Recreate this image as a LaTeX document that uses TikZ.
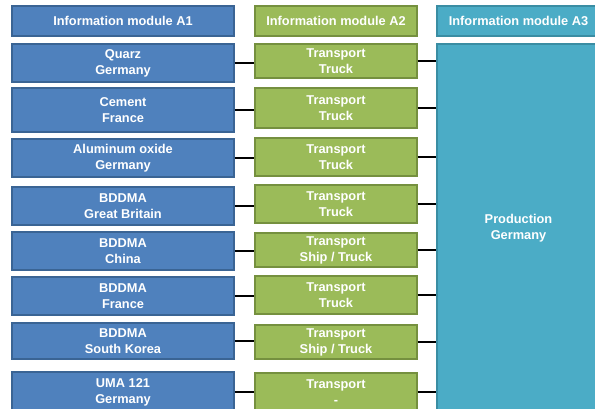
\documentclass[tikz,border=0pt]{standalone}
\usepackage{fontspec}
\setmainfont{Liberation Sans}
\begin{document}
\begin{tikzpicture}[x=1pt,y=-1pt,
  box/.style={line width=1.3pt, align=center, text=white,
    font=\fontsize{12.8}{16}\selectfont\bfseries, inner sep=0pt},
  srcbox/.style={box, fill=blueA, draw=blueB},
  trbox/.style={box, fill=greenA, draw=greenB},
  prodbox/.style={box, fill=tealA, draw=tealB},
  link/.style={line width=2pt, black}]
\definecolor{blueA}{HTML}{4F81BD}
\definecolor{blueB}{HTML}{3A6494}
\definecolor{greenA}{HTML}{9BBB59}
\definecolor{greenB}{HTML}{75903F}
\definecolor{tealA}{HTML}{4BACC6}
\definecolor{tealB}{HTML}{3A8DA3}
\useasboundingbox (0,0) rectangle (595,408);
\clip (0,0) rectangle (595,408);

% column headers
\node[srcbox, minimum width=222pt, minimum height=30pt] (h1) at (123,21) {Information module A1};
\node[trbox, minimum width=162pt, minimum height=30pt] (h2) at (336,21) {Information module A2};
\node[prodbox, minimum width=163pt, minimum height=30pt] (h3) at (518.5,21) {Information module A3};

% production site
\node[prodbox, minimum width=163pt, minimum height=368pt] (prod) at (518.5,228) {Production\\Germany};

% raw materials (A1) and their transport (A2)
\foreach \i/\yb/\hb/\yg/\hg/\mat/\trans in {
  1/63/38/61/34/{Quarz\\Germany}/{Transport\\Truck},
  2/110/44/108/40/{Cement\\France}/{Transport\\Truck},
  3/158/38/157/38/{Aluminum oxide\\Germany}/{Transport\\Truck},
  4/206/38/204/38/{BDDMA\\Great Britain}/{Transport\\Truck},
  5/251/38/250/34/{BDDMA\\China}/{Transport\\Ship / Truck},
  6/296/38/295/38/{BDDMA\\France}/{Transport\\Truck},
  7/341/36/342/34/{BDDMA\\South Korea}/{Transport\\Ship / Truck},
  8/392/40/392/38/{UMA 121\\Germany}/{Transport\\-}} {
  \node[srcbox, minimum width=222pt, minimum height=\hb pt] (m\i) at (123,\yb) {\mat};
  \node[trbox, minimum width=162pt, minimum height=\hg pt] (t\i) at (336,\yg) {\trans};
  \draw[link] (m\i.east) -- (m\i.east -| t\i.west);
  \draw[link] (t\i.east) -- (t\i.east -| prod.west);
}
\end{tikzpicture}
\end{document}
